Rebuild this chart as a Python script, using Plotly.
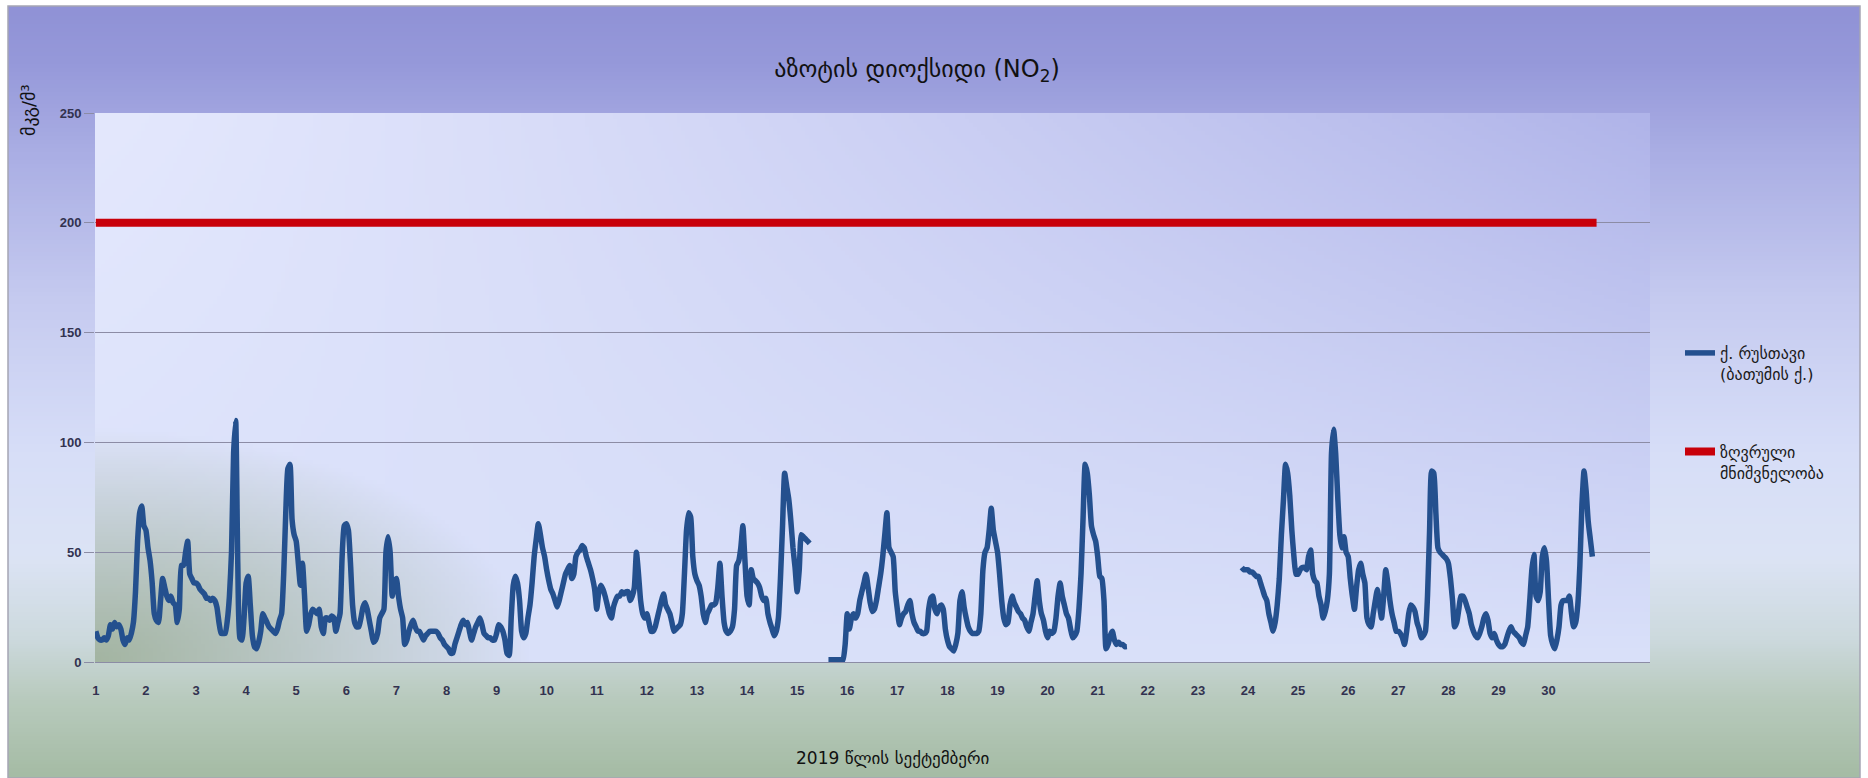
import base64, struct, zlib
import numpy as np
import plotly.graph_objects as go

N = None
# Hourly NO2 concentrations (µg/m3), Rustavi, September 2019 (24 values per day)
sep_01 = [14,11,10,10,11,10,12,17,15,18,16,17,15,10,8,11,10,13,18,32,55,68,71,62]
sep_02 = [60,52,46,36,22,19,18,28,38,34,30,28,30,27,26,18,24,44,44,50,55,40,38,36]
sep_03 = [36,35,33,32,31,29,29,28,29,28,25,18,13,13,13,19,30,50,95,110,45,11,10,20]
sep_04 = [36,39,26,12,7,6,9,14,22,20,18,16,15,14,13,15,19,22,40,68,88,90,65,58]
sep_05 = [55,45,35,45,30,14,17,22,24,23,22,24,16,13,20,20,19,21,20,14,18,22,48,62]
sep_06 = [63,60,45,26,18,16,16,20,25,27,24,19,14,9,10,13,20,22,24,50,57,50,30,36]
sep_07 = [38,30,24,20,8,10,14,17,19,16,14,14,12,10,12,13,14,14,14,14,13,11,10,8]
sep_08 = [7,6,4,4,8,11,14,17,19,17,18,14,10,13,16,18,20,17,13,12,11,11,10,10]
sep_09 = [13,17,16,14,10,4,3,20,35,39,36,28,14,11,13,20,26,36,48,56,63,58,52,48]
sep_10 = [42,37,33,31,28,25,28,32,36,40,42,44,38,40,48,50,51,53,52,48,45,42,38,33]
sep_11 = [24,32,35,33,30,26,22,20,25,28,30,30,32,31,32,32,28,30,34,50,40,28,22,20]
sep_12 = [22,18,14,14,16,20,24,28,31,26,24,22,18,14,15,16,17,22,40,60,68,66,48,40]
sep_13 = [37,35,30,22,18,22,24,26,26,27,34,45,30,18,14,13,14,16,24,44,46,52,62,46]
sep_14 = [30,26,42,38,37,36,34,30,28,29,22,18,15,12,14,20,38,62,86,80,74,64,52,43]
sep_15 = [32,42,58,57,56,55,54,N,N,N,N,N,N,N,N,1,1,1,1,1,1,1,1,8]
sep_16 = [22,15,20,22,20,22,28,32,36,40,34,27,23,24,28,34,40,48,58,68,52,50,48,32]
sep_17 = [24,17,20,22,23,26,28,22,18,16,14,14,13,13,14,24,29,30,24,22,25,26,24,15]
sep_18 = [10,7,6,5,8,13,28,32,25,20,16,14,13,13,13,14,22,42,50,52,60,70,60,55]
sep_19 = [50,40,28,20,17,18,26,30,27,25,23,22,20,19,16,14,18,22,30,37,28,22,19,14]
sep_20 = [11,14,13,14,20,30,36,30,26,22,20,15,11,12,14,24,40,66,90,86,76,62,58,55]
sep_21 = [48,39,38,28,6,8,12,14,10,8,9,8,8,7,7,N,N,N,N,N,N,N,N,N]
sep_22 = [N,N,N,N,N,N,N,N,N,N,N,N,N,N,N,N,N,N,N,N,N,N,N,N]
sep_23 = [N,N,N,N,N,N,N,N,N,N,N,N,N,N,N,N,N,N,N,N,N,43,42,42]
sep_24 = [42,41,41,40,39,39,36,33,30,28,22,18,14,18,26,38,58,74,90,86,76,60,48,40]
sep_25 = [40,42,43,43,42,48,51,40,37,36,30,26,20,23,28,40,95,106,95,75,58,52,57,50]
sep_26 = [48,38,30,24,34,42,45,40,36,20,17,16,22,28,33,26,20,30,42,36,28,22,18,14]
sep_27 = [14,13,11,8,14,22,26,25,23,18,15,11,12,14,30,60,87,86,68,52,50,49,48,47]
sep_28 = [45,38,28,16,18,24,30,30,28,25,22,17,14,12,11,13,16,20,22,19,13,11,13,10]
sep_29 = [8,7,7,8,11,14,16,14,13,12,11,9,8,12,16,28,42,49,30,28,32,48,52,46]
sep_30 = [28,12,8,6,10,16,26,28,28,28,30,22,16,18,26,44,72,87,78,64,56,48,N,N]

days = [sep_01, sep_02, sep_03, sep_04, sep_05, sep_06, sep_07, sep_08, sep_09, sep_10,
        sep_11, sep_12, sep_13, sep_14, sep_15, sep_16, sep_17, sep_18, sep_19, sep_20,
        sep_21, sep_22, sep_23, sep_24, sep_25, sep_26, sep_27, sep_28, sep_29, sep_30]
rustavi = [v for d in days for v in d]
hours = list(range(len(rustavi)))
limit_value = 200
limit_values = [limit_value] * len(hours)
day_labels = [str(i + 1) for i in range(len(days))]
day_ticks = [i * 24 for i in range(len(days))]

series_name = "ქ. რუსთავი<br>(ბათუმის ქ.)"
limit_name = "ზღვრული<br>მნიშვნელობა"
title_text = "აზოტის დიოქსიდი (NO<sub>2</sub>)"
x_title = "2019 წლის სექტემბერი"
y_title = "მკგ/მ³"

W, H = 1868, 778
ML, MR, MT, MB = 95, 218, 113, 116
PW, PH = W - ML - MR, H - MT - MB

def px(xp):
    return (xp - ML) / PW

def py(yp):
    return 1 - (yp - MT) / PH

def png_uri(arr):
    arr = np.clip(arr, 0, 255).astype(np.uint8)
    h, w, _ = arr.shape
    raw = b"".join(b"\x00" + arr[r].tobytes() for r in range(h))
    def chunk(tag, data):
        return (struct.pack(">I", len(data)) + tag + data +
                struct.pack(">I", zlib.crc32(tag + data) & 0xFFFFFFFF))
    png = (b"\x89PNG\r\n\x1a\n" +
           chunk(b"IHDR", struct.pack(">IIBBBBB", w, h, 8, 2, 0, 0, 0)) +
           chunk(b"IDAT", zlib.compress(raw, 9)) + chunk(b"IEND", b""))
    return "data:image/png;base64," + base64.b64encode(png).decode()

# outer gradient (frame area)
FX0, FY0, FX1, FY1 = 8, 6, 1860, 778
ho, wo = 193, 463
ys = np.linspace(FY0, FY1, ho)
sy = [6, 60, 150, 300, 450, 560, 640, 700, 778]
sc = [(144,146,214), (150,153,218), (170,174,228), (198,203,240), (215,222,248),
      (220,228,245), (205,218,222), (185,203,190), (165,188,165)]
col = np.stack([np.interp(ys, sy, [c[k] for c in sc]) for k in range(3)], axis=1)
outer = np.repeat(col[:, None, :], wo, axis=1)

# plot-area gradient
hp, wp = 137, 389
u = np.linspace(0, 1, wp)[None, :, None]
v = np.linspace(0, 1, hp)[:, None, None]
TL = np.array([228, 232, 253.0]); TR = np.array([176, 180, 233.0]); BOT = np.array([218, 225, 250.0])
top = TL + (TR - TL) * u ** 1.2
base = top + (BOT - top) * v
d = np.sqrt((u / 0.28) ** 2 + ((1 - v) / 0.42) ** 2)
wgt = np.clip(1 - d, 0, 1) ** 0.9 * 0.8
GREEN = np.array([150, 170, 140.0])
plotbg = base + (GREEN - base) * wgt

fig = go.Figure()
fig.add_trace(go.Scatter(
    x=hours, y=rustavi, mode="lines", name=series_name, legendgroup="a",
    line=dict(color="#24508e", width=5.5, shape="spline", smoothing=0.5),
    connectgaps=False))
fig.add_trace(go.Scatter(
    x=hours, y=limit_values, mode="lines", name=limit_name, legendgroup="b",
    line=dict(color="#c8000a", width=8)))

grid = "rgb(140,140,165)"
fig.update_layout(
    width=W, height=H,
    margin=dict(l=ML, r=MR, t=MT, b=MB, pad=0),
    paper_bgcolor="white", plot_bgcolor="rgba(0,0,0,0)",
    font=dict(family="DejaVu Sans", color="#1a1a1a"),
    title=dict(text=title_text, x=917 / W, xanchor="center", xref="container",
               y=1 - 69 / H, yanchor="middle", font=dict(size=24, color="#111111")),
    showlegend=True,
    legend=dict(x=px(1680), y=py(336), xanchor="left", yanchor="top",
                bgcolor="rgba(0,0,0,0)", font=dict(size=16, color="#1a1a1a"),
                valign="top", tracegroupgap=54, itemwidth=30),
    images=[
        dict(source=png_uri(outer), xref="paper", yref="paper", x=px(FX0), y=py(FY0),
             sizex=(FX1 - FX0) / PW, sizey=(FY1 - FY0) / PH, sizing="stretch",
             xanchor="left", yanchor="top", layer="below"),
        dict(source=png_uri(plotbg), xref="paper", yref="paper", x=0, y=1,
             sizex=1, sizey=1, sizing="stretch", xanchor="left", yanchor="top", layer="below"),
    ],
    shapes=[dict(type="rect", xref="paper", yref="paper", x0=px(FX0), x1=px(FX1),
                 y0=py(FY1), y1=py(FY0), line=dict(color="rgb(165,165,180)", width=1.5),
                 layer="below")],
    annotations=[
        dict(text=x_title, xref="paper", yref="paper", x=px(893), y=py(758),
             xanchor="center", yanchor="middle", showarrow=False,
             font=dict(size=17, color="#111111")),
        dict(text=y_title, xref="paper", yref="paper", x=px(28), y=py(110),
             xanchor="center", yanchor="middle", showarrow=False, textangle=-90,
             font=dict(size=18, color="#111111")),
    ],
)
fig.update_xaxes(range=[-0.4, 744.6], tickmode="array", tickvals=day_ticks, ticktext=day_labels,
                 showgrid=False, zeroline=False, showline=True, linecolor=grid, linewidth=1,
                 ticks="", ticklabelstandoff=16,
                 tickfont=dict(family="Liberation Sans", size=13, color="rgb(50,50,80)", weight="bold"))
fig.update_yaxes(range=[0, 250], dtick=50, showgrid=True, gridcolor=grid, gridwidth=1,
                 zeroline=False, ticks="outside", ticklen=10, tickcolor=grid,
                 tickfont=dict(family="Liberation Sans", size=13, color="rgb(50,50,80)", weight="bold"))

fig.write_html("out.html")
